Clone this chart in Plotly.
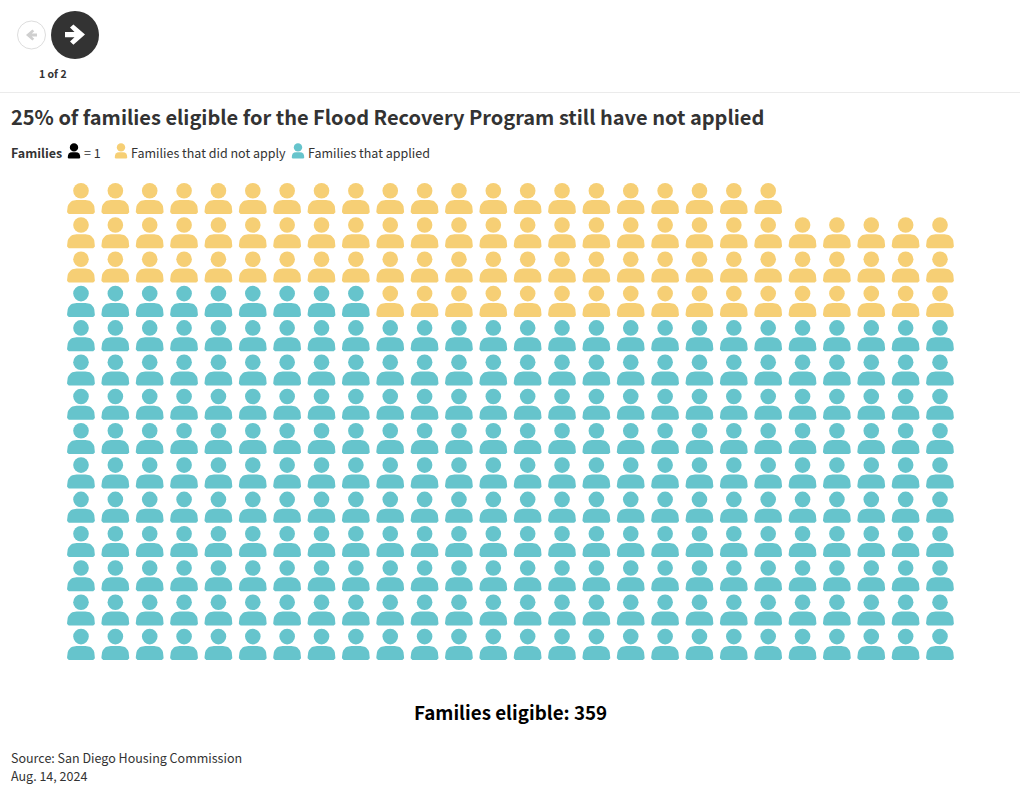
import math
import plotly.graph_objects as go

FONT = "Noto Sans CJK SC"
W, H = 1020, 795

# ---- data ----
row_totals = [21, 26, 26, 26, 26, 26, 26, 26, 26, 26, 26, 26, 26, 26]
row_not_applied = [21, 26, 26, 17, 0, 0, 0, 0, 0, 0, 0, 0, 0, 0]
status_names = ["Families that did not apply", "Families that applied"]
status_colors = ["#F6CF75", "#66C4CC"]
title_text = "25% of families eligible for the Flood Recovery Program still have not applied"
total_label = "Families eligible: 359"
source_lines = ["Source: San Diego Housing Commission", "Aug. 14, 2024"]
pager_label = "1 of 2"

# ---- layout geometry (pixels) ----
COL_STEP, ROW_STEP = 34.36, 34.3
X0, Y0 = 81.0, 190.7   # head centre of first person


def px(x):
    return x / W


def py(y):
    return 1 - y / H


def spow(v, p=0.85):
    return math.copysign(abs(v) ** p, v)


def body_outline(cx, top, half_w, height, n=8):
    """Body silhouette as offsets in pixels: full shoulders, flat base."""
    rx, ry = half_w * 0.68, height * 0.8
    r = height * 0.12
    pts = [(cx - half_w + r, top + height)]
    pts.append((cx - half_w, top + height - r))
    for i in range(n + 1):
        a = math.pi + math.pi / 2 * i / n
        pts.append((cx - half_w + rx + rx * spow(math.cos(a)), top + ry + ry * spow(math.sin(a))))
    for i in range(n + 1):
        a = -math.pi / 2 + math.pi / 2 * i / n
        pts.append((cx + half_w - rx + rx * spow(math.cos(a)), top + ry + ry * spow(math.sin(a))))
    pts.append((cx + half_w, top + height - r))
    pts.append((cx + half_w - r, top + height))
    return pts


# Axes are in column/row units; the plot fills the page, so scale from pixels.
x_range = [-X0 / COL_STEP, (W - X0) / COL_STEP]
y_range = [(H - Y0) / ROW_STEP, -Y0 / ROW_STEP]

head_x = [[], []]
head_y = [[], []]
body_x = [[], []]
body_y = [[], []]
for r, (total, no) in enumerate(zip(row_totals, row_not_applied)):
    for c in range(total):
        # in a mixed row the families that did not apply sit on the right
        s = 0 if c >= total - no else 1
        head_x[s].append(c)
        head_y[s].append(r)
        for dx, dy in body_outline(0, 9.3, 13.9, 14.0):
            body_x[s].append(c + dx / COL_STEP)
            body_y[s].append(r + dy / ROW_STEP)
        body_x[s].append(None)
        body_y[s].append(None)

fig = go.Figure()
for s in (1, 0):
    fig.add_trace(go.Scatter(x=body_x[s], y=body_y[s], mode="lines", fill="toself",
                             fillcolor=status_colors[s], line=dict(width=0),
                             hoverinfo="skip", showlegend=False))
    fig.add_trace(go.Scatter(x=head_x[s], y=head_y[s], mode="markers", name=status_names[s],
                             marker=dict(symbol="circle", size=15.6, color=status_colors[s],
                                         line=dict(width=0)),
                             hoverinfo="skip", showlegend=False))

shapes = []


def poly_path(pts):
    return "M " + " L ".join(f"{px(x):.5f},{py(y):.5f}" for x, y in pts) + " Z"


def add_circle(cx, cy, rad, fill, line=None):
    shapes.append(dict(type="circle", xref="paper", yref="paper",
                       x0=px(cx - rad), x1=px(cx + rad), y0=py(cy + rad), y1=py(cy - rad),
                       fillcolor=fill, line=dict(color=line or fill, width=1 if line else 0)))


def add_poly(pts, fill):
    shapes.append(dict(type="path", xref="paper", yref="paper", path=poly_path(pts),
                       fillcolor=fill, line=dict(width=0)))


def add_arrow(cx, cy, k, fill):
    base = [(-10, -2.6), (-0.5, -2.6), (-5, -7), (-1.6, -10.2), (10, 0),
            (-1.6, 10.2), (-5, 7), (-0.5, 2.6), (-10, 2.6)]
    add_poly([(cx + k * a, cy + abs(k) * b) for a, b in base], fill)


def add_legend_person(cx, color):
    add_circle(cx, 147.4, 4.2, color)
    add_poly(body_outline(cx, 152.2, 6.2, 6.2, n=4), color)


# separator, pager
shapes.append(dict(type="line", xref="paper", yref="paper", x0=0, x1=1, y0=py(92.5), y1=py(92.5),
                   line=dict(color="#EBEBEB", width=1)))
add_circle(31.5, 35, 14, "#FFFFFF", "#DDDDDD")
add_arrow(31.5, 35, -0.55, "#CFCFCF")
add_circle(75, 35, 24, "#333333")
add_arrow(75, 34.6, 1.0, "#FFFFFF")
# legend people
add_legend_person(74, "#000000")
add_legend_person(121, status_colors[0])
add_legend_person(298, status_colors[1])


def note(text, x, y, size, bold=False, anchor="left", color="#333333"):
    return dict(text=f"<b>{text}</b>" if bold else text, x=px(x), y=py(y), xref="paper", yref="paper",
                xanchor=anchor, yanchor="middle", showarrow=False,
                font=dict(family=FONT, size=size, color=color))


annotations = [
    note(pager_label, 53, 74, 10.5, True, "center"),
    note(title_text, 8.5, 117, 20, True),
    note("Families", 8.5, 153, 12.5, True),
    note("= 1", 82, 153, 12.5),
    note(status_names[0], 128.5, 153, 12.5),
    note(status_names[1], 306, 153, 12.5),
    note(total_label, 510.5, 711.5, 18.8, True, "center", "#000000"),
    note(source_lines[0], 8.5, 757, 12.5),
    note(source_lines[1], 8.5, 775, 12.5),
]

fig.update_layout(
    width=W, height=H, margin=dict(l=0, r=0, t=0, b=0, pad=0, autoexpand=False),
    paper_bgcolor="#FFFFFF", plot_bgcolor="#FFFFFF", showlegend=False,
    xaxis=dict(range=x_range, visible=False, fixedrange=True),
    yaxis=dict(range=y_range, visible=False, fixedrange=True),
    shapes=shapes, annotations=annotations, hovermode=False,
)
fig.write_html("out.html", config=dict(displayModeBar=False, responsive=False),
               post_script="document.body.style.margin='0';document.body.style.overflow='hidden';")
